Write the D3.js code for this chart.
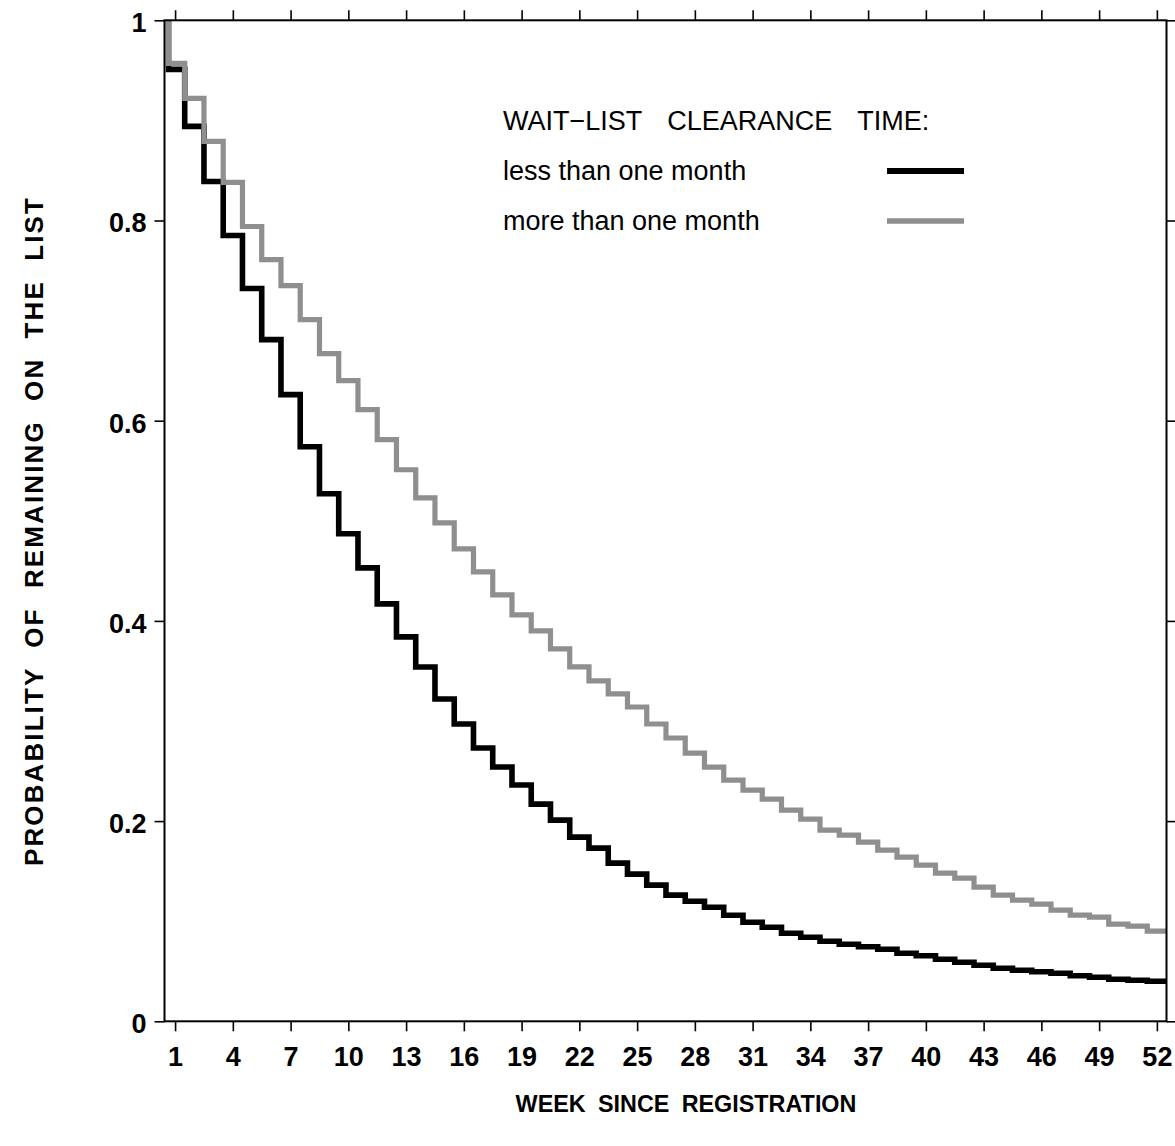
<!DOCTYPE html>
<html>
<head>
<meta charset="utf-8">
<script src="https://cdn.jsdelivr.net/npm/d3@7/dist/d3.min.js"></script>
<style>
  html, body { margin: 0; padding: 0; background: #fff; }
  svg { display: block; }
  text { font-family: "Liberation Sans", Arial, sans-serif; fill: #000; }
</style>
</head>
<body>
<svg id="chart" width="1175" height="1146"></svg>
<script>
// ---- data ----
const weeks = d3.range(1, 53);
const xTickWeeks = [1, 4, 7, 10, 13, 16, 19, 22, 25, 28, 31, 34, 37, 40, 43, 46, 49, 52];
const yTickValues = [0, 0.2, 0.4, 0.6, 0.8, 1];
const yTickLabels = ["0", "0.2", "0.4", "0.6", "0.8", "1"];
const seriesNames = ["less than one month", "more than one month"];
const lessThanOneMonth = [
  0.951, 0.894, 0.839, 0.785, 0.732, 0.681, 0.626, 0.574, 0.527, 0.487,
  0.453, 0.417, 0.384, 0.354, 0.322, 0.297, 0.273, 0.254, 0.236, 0.217,
  0.201, 0.184, 0.173, 0.158, 0.147, 0.136, 0.126, 0.120, 0.114, 0.106,
  0.099, 0.094, 0.088, 0.084, 0.080, 0.077, 0.0745, 0.072, 0.068, 0.0655,
  0.062, 0.059, 0.056, 0.053, 0.051, 0.0495, 0.048, 0.0455, 0.044, 0.042,
  0.041, 0.040
];
const moreThanOneMonth = [
  0.957, 0.922, 0.879, 0.838, 0.794, 0.761, 0.735, 0.701, 0.667, 0.640,
  0.611, 0.581, 0.551, 0.523, 0.498, 0.472, 0.449, 0.426, 0.406, 0.390,
  0.372, 0.354, 0.340, 0.327, 0.314, 0.297, 0.283, 0.268, 0.254, 0.241,
  0.231, 0.222, 0.211, 0.202, 0.191, 0.186, 0.179, 0.171, 0.164, 0.156,
  0.148, 0.143, 0.134, 0.126, 0.121, 0.117, 0.111, 0.106, 0.104, 0.097,
  0.095, 0.090
];
const startWeek = 0.66;   // curves start at probability 1
const legendTitle = "WAIT\u2212LIST CLEARANCE TIME:";
const xTitle = "WEEK SINCE REGISTRATION";
const yTitle = "PROBABILITY OF REMAINING ON THE LIST";

// ---- layout ----
const L = 164.5, R = 1166.5, T = 20.3, B = 1021.3;
const svg = d3.select("#chart");
const x = d3.scaleLinear().domain([0.45, 52.5]).range([L, R]);
const y = d3.scaleLinear().domain([0, 1]).range([B, T]);

function stepPoints(vals) {
  const pts = [{ t: startWeek, v: 1 }];
  vals.forEach((v, i) => pts.push({ t: i === 0 ? startWeek : weeks[i] - 0.5, v }));
  pts.push({ t: weeks[weeks.length - 1] + 0.5, v: vals[vals.length - 1] });
  return pts;
}
const line = d3.line().x(d => x(d.t)).y(d => y(d.v)).curve(d3.curveStepAfter);

const colors = ["#000000", "#8f8f8f"];
const widths = [5.6, 5.2];
[lessThanOneMonth, moreThanOneMonth].forEach((vals, i) => {
  svg.append("path")
    .attr("d", line(stepPoints(vals)))
    .attr("fill", "none")
    .attr("stroke", colors[i])
    .attr("stroke-width", widths[i])
    .attr("stroke-linejoin", "miter");
});

// ---- axes ----
const tickFont = "bold 27px 'Liberation Sans', Arial, sans-serif";
const axB = svg.append("g").attr("transform", `translate(0,${B})`)
  .call(d3.axisBottom(x).tickValues(xTickWeeks).tickSize(10).tickPadding(16).tickFormat(d3.format("d")));
const axT = svg.append("g").attr("transform", `translate(0,${T})`)
  .call(d3.axisTop(x).tickValues(xTickWeeks).tickSize(10).tickFormat(""));
const axL = svg.append("g").attr("transform", `translate(${L},0)`)
  .call(d3.axisLeft(y).tickValues(yTickValues).tickSize(10).tickPadding(8).tickFormat((d, i) => yTickLabels[i]));
const axR = svg.append("g").attr("transform", `translate(${R},0)`)
  .call(d3.axisRight(y).tickValues(yTickValues).tickSize(10).tickFormat(""));
[axB, axT, axL, axR].forEach(g => {
  g.select(".domain").remove();
  g.selectAll(".tick line").attr("stroke", "#000").attr("stroke-width", 1.6);
  g.selectAll("text").style("font", tickFont).attr("fill", "#000");
});
axL.selectAll("text").attr("dy", "0.42em");
svg.append("rect").attr("x", L).attr("y", T).attr("width", R - L).attr("height", B - T)
  .attr("fill", "none").attr("stroke", "#000").attr("stroke-width", 2);

// ---- titles ----
// x title: fitted to the reference width
const xtG = svg.append("g");
const xt = xtG.append("text").attr("x", 0).attr("y", 0).attr("text-anchor", "middle")
  .style("font", "bold 24px 'Liberation Sans', Arial, sans-serif").attr("word-spacing", 6).text(xTitle);
const xw = xt.node().getComputedTextLength();
xtG.attr("transform", `translate(686,1112) scale(${341 / xw},1)`);

// y title: spaced out to the reference length
const yt = svg.append("text").attr("transform", "translate(43,531) rotate(-90)").attr("text-anchor", "middle")
  .style("font", "bold 26px 'Liberation Sans', Arial, sans-serif").attr("word-spacing", 10).text(yTitle);
const yw = yt.node().getComputedTextLength();
const ls = (668 - yw) / (yTitle.length - 1);
yt.attr("letter-spacing", ls);

// ---- legend ----
const lg = svg.append("g");
lg.append("text").attr("x", 503).attr("y", 130).style("font", "27px 'Liberation Sans', Arial, sans-serif")
  .attr("word-spacing", 18).text(legendTitle);
seriesNames.forEach((name, i) => {
  const yy = 180 + i * 50;
  lg.append("text").attr("x", 503).attr("y", yy).style("font", "27px 'Liberation Sans', Arial, sans-serif").text(name);
  lg.append("line").attr("x1", 887).attr("x2", 964).attr("y1", yy - 9).attr("y2", yy - 9)
    .attr("stroke", colors[i]).attr("stroke-width", widths[i] + 0.3);
});
</script>
</body>
</html>
